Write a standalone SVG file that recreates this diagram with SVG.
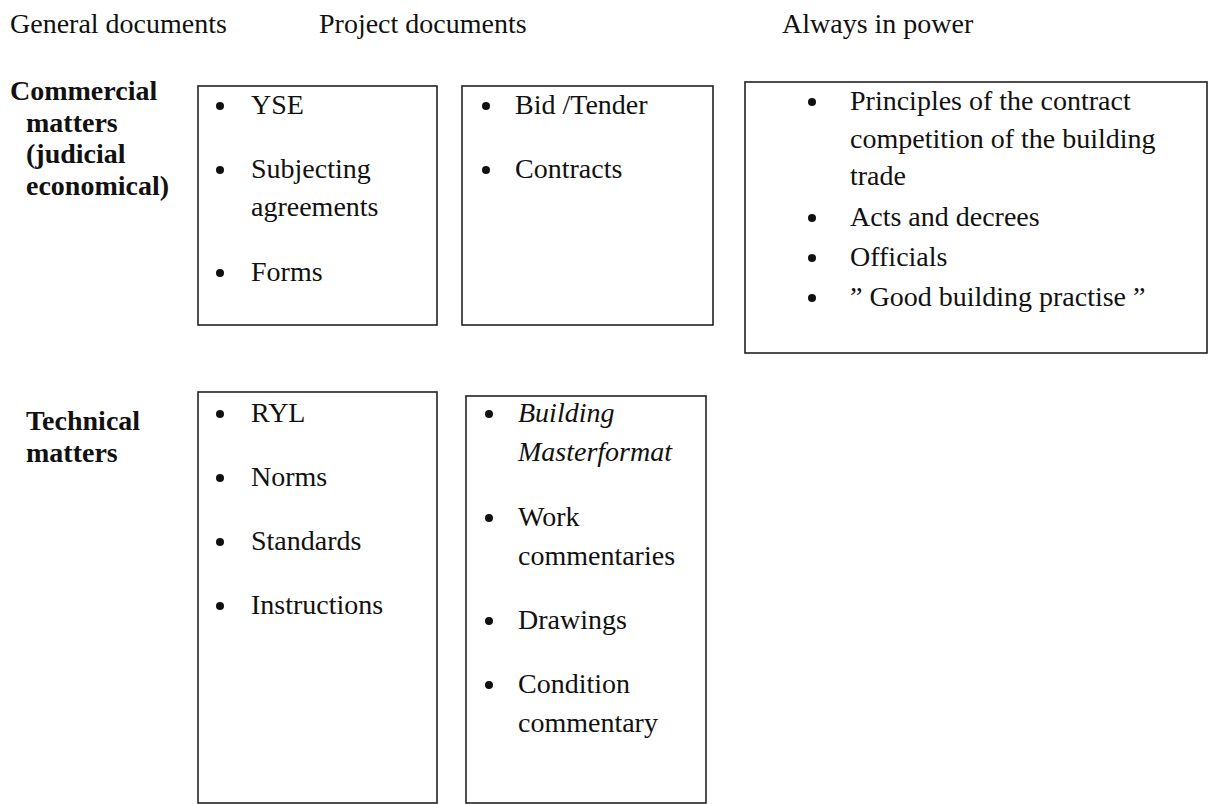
<svg xmlns="http://www.w3.org/2000/svg" width="1214" height="804" viewBox="0 0 1214 804">
<style>
text{font-size:28px;fill:#111}
.h{font-weight:bold}
.i{font-style:italic}
.box{fill:#fff;stroke:#222;stroke-width:1.6}
.b{fill:#111}
</style>
<rect width="1214" height="804" fill="#fff"/>
<g font-family="Liberation Serif, Times New Roman, serif">
<g id="headers">
<text x="10" y="33">General documents</text>
<text x="319" y="33">Project documents</text>
<text x="782" y="33">Always in power</text>
</g>
<g id="row-commercial">
<text class="h" x="10" y="100">Commercial</text>
<text class="h" x="26" y="131.5">matters</text>
<text class="h" x="26" y="163">(judicial</text>
<text class="h" x="26" y="194.5">economical)</text>
</g>
<g id="row-technical">
<text class="h" x="26" y="430">Technical</text>
<text class="h" x="26" y="461.5">matters</text>
</g>
<g id="box-general-commercial">
<rect class="box" x="198" y="86" width="239" height="239"/>
<circle class="b" cx="220" cy="106" r="4"/><text x="251" y="114">YSE</text>
<circle class="b" cx="220" cy="170" r="4"/><text x="251" y="178">Subjecting</text>
<text x="251" y="216">agreements</text>
<circle class="b" cx="220" cy="273" r="4"/><text x="251" y="281">Forms</text>
</g>
<g id="box-project-commercial">
<rect class="box" x="462" y="86" width="251" height="239"/>
<circle class="b" cx="486" cy="106" r="4"/><text x="515" y="114">Bid /Tender</text>
<circle class="b" cx="486" cy="170" r="4"/><text x="515" y="178">Contracts</text>
</g>
<g id="box-always">
<rect class="box" x="745" y="82" width="462" height="271"/>
<circle class="b" cx="812" cy="102" r="4"/><text x="850" y="110">Principles of the contract</text>
<text x="850" y="147.5">competition of the building</text>
<text x="850" y="185">trade</text>
<circle class="b" cx="812" cy="218" r="4"/><text x="850" y="226">Acts and decrees</text>
<circle class="b" cx="812" cy="258" r="4"/><text x="850" y="266">Officials</text>
<circle class="b" cx="812" cy="298" r="4"/><text x="850" y="306">” Good building practise ”</text>
</g>
<g id="box-general-technical">
<rect class="box" x="198" y="392" width="239" height="411"/>
<circle class="b" cx="220" cy="414" r="4"/><text x="251" y="422">RYL</text>
<circle class="b" cx="220" cy="478" r="4"/><text x="251" y="486">Norms</text>
<circle class="b" cx="220" cy="542" r="4"/><text x="251" y="550">Standards</text>
<circle class="b" cx="220" cy="606" r="4"/><text x="251" y="614">Instructions</text>
</g>
<g id="box-project-technical">
<rect class="box" x="466" y="396" width="240" height="407"/>
<circle class="b" cx="489" cy="414" r="4"/><text class="i" x="518" y="422">Building</text>
<text class="i" x="518" y="461">Masterformat</text>
<circle class="b" cx="489" cy="518" r="4"/><text x="518" y="526">Work</text>
<text x="518" y="565">commentaries</text>
<circle class="b" cx="489" cy="621" r="4"/><text x="518" y="629">Drawings</text>
<circle class="b" cx="489" cy="685" r="4"/><text x="518" y="693">Condition</text>
<text x="518" y="732">commentary</text>
</g>
</g>
<g id="connectors"></g>
</svg>
